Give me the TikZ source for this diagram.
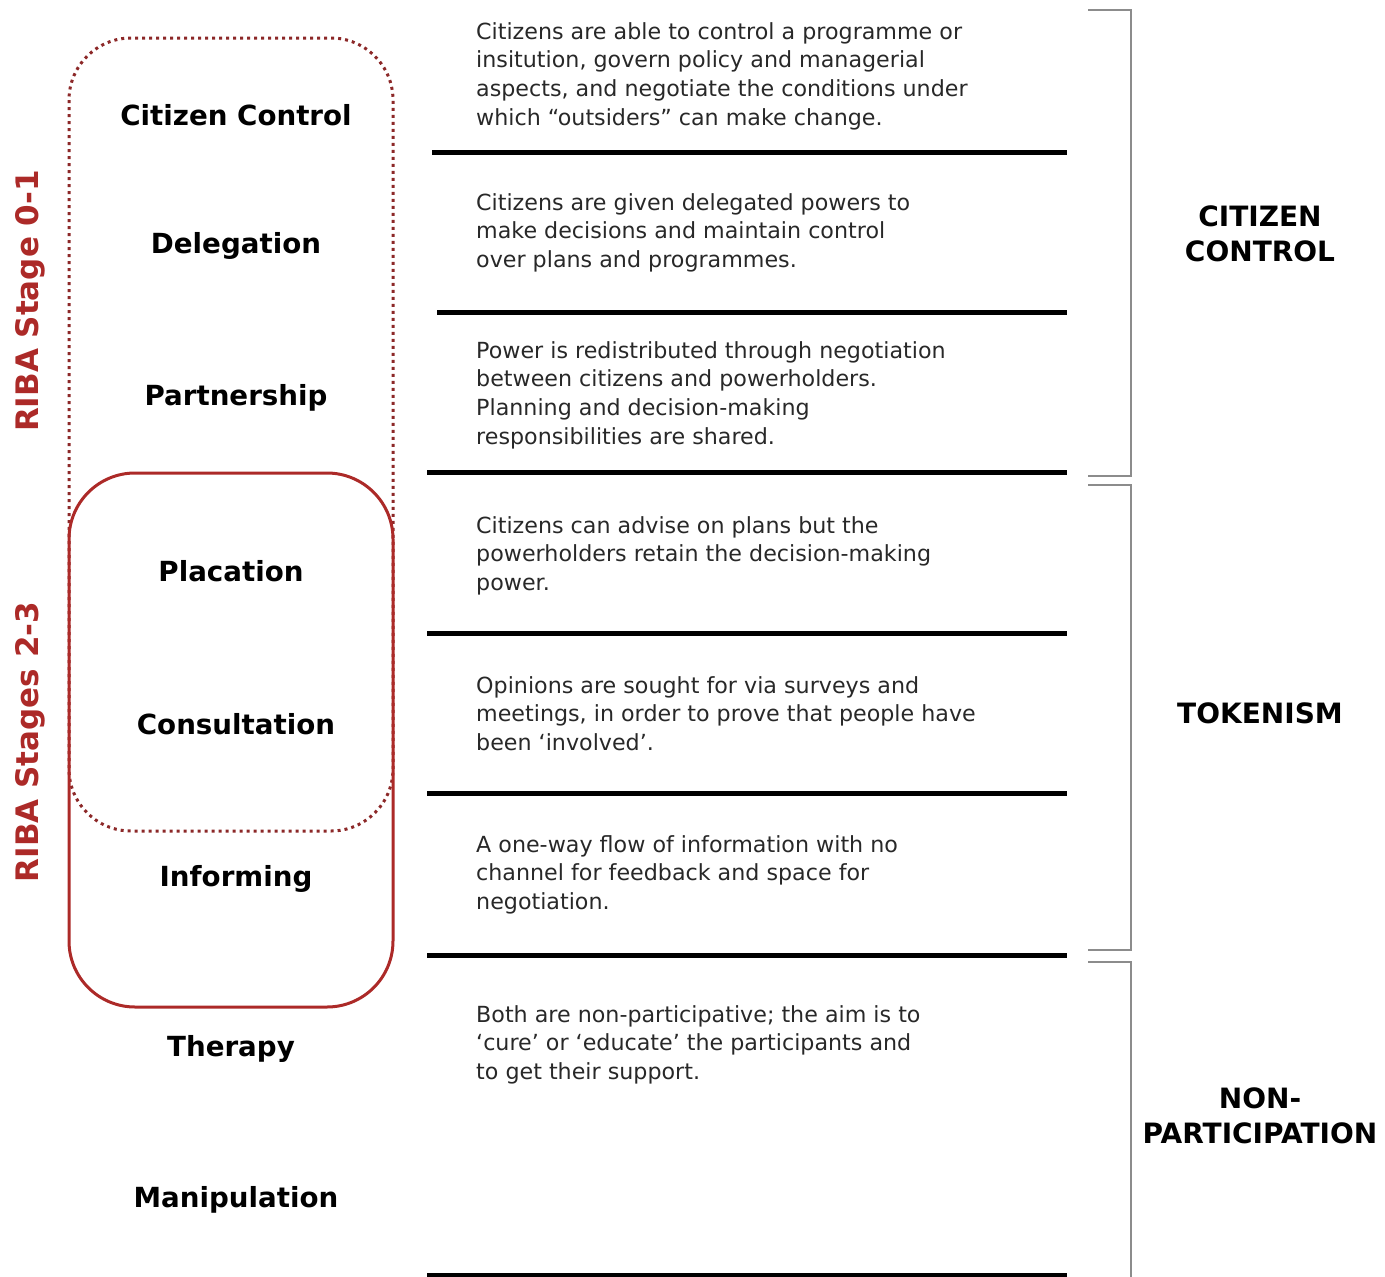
\documentclass[tikz,border=0pt]{standalone}
\usepackage{fontspec}
\setmainfont{DejaVu Sans}
\definecolor{ribared}{RGB}{172,42,40}
\definecolor{ribadot}{RGB}{140,40,40}
\definecolor{bracegray}{RGB}{140,140,140}
\definecolor{desctext}{RGB}{40,40,40}
\tikzset{
  rung/.style={inner sep=0,text height=20pt,text depth=0pt,font=\fontsize{27.7}{35}\selectfont\bfseries},
  desc/.style={anchor=north west,inner sep=0,align=left,text=desctext,font=\fontsize{22.2}{28.7}\selectfont},
  band/.style={inner sep=0,align=center,font=\fontsize{28}{34.5}\selectfont\bfseries},
  riba/.style={rotate=90,inner sep=0,text=ribared,font=\fontsize{31}{36}\selectfont\bfseries},
  sep/.style={line width=5pt},
  brace/.style={bracegray,line width=2.5pt}
}
\begin{document}
\begin{tikzpicture}[x=1pt,y=-1pt]
\useasboundingbox (0,0) rectangle (1385,1277);

% RIBA stage frames
\draw[ribadot,line width=3pt,dash pattern=on 3pt off 4pt,rounded corners=62pt](69,38) rectangle (393,831);
\draw[ribared,line width=3pt,rounded corners=66pt](69,473) rectangle (393,1007);
\node[riba] (stage01) at (30,301) {RIBA Stage 0-1};
\node[riba] (stage23) at (30,742) {RIBA Stages 2-3};

% rungs of the ladder
\node[rung] (ctrl) at (236,115) {Citizen Control};
\node[rung] (deleg) at (236,243) {Delegation};
\node[rung] (partn) at (236,395) {Partnership};
\node[rung] (plac) at (231,571) {Placation};
\node[rung] (consult) at (236,724) {Consultation};
\node[rung] (inform) at (236,876) {Informing};
\node[rung] (therapy) at (231,1046) {Therapy};
\node[rung] (manip) at (236,1197) {Manipulation};

% what each rung means
\node[desc] (d-ctrl) at (476,22) {Citizens are able to control a programme or\\insitution, govern policy and managerial\\aspects, and negotiate the conditions under\\which “outsiders” can make change.};
\node[desc] (d-deleg) at (476,193) {Citizens are given delegated powers to\\make decisions and maintain control\\over plans and programmes.};
\node[desc] (d-partn) at (476,341) {Power is redistributed through negotiation\\between citizens and powerholders.\\Planning and decision-making\\responsibilities are shared.};
\node[desc] (d-plac) at (476,516) {Citizens can advise on plans but the\\powerholders retain the decision-making\\power.};
\node[desc] (d-consult) at (476,676) {Opinions are sought for via surveys and\\meetings, in order to prove that people have\\been ‘involved’.};
\node[desc] (d-inform) at (476,835) {A one-way flow of information with no\\channel for feedback and space for\\negotiation.};
\node[desc] (d-nonpart) at (476,1005) {Both are non-participative; the aim is to\\‘cure’ or ‘educate’ the participants and\\to get their support.};

% separators
\foreach \x/\y in {432/152,437/312,427/472,427/633,427/793,427/955,427/1275}
  \draw[sep](\x,\y)--(1067,\y);

% brackets and groups
\draw[brace](1088,10)-|(1131,476)--(1088,476);
\draw[brace](1088,485)-|(1131,950)--(1088,950);
\draw[brace](1088,962)-|(1131,1277);
\node[band] (g-ctrl) at (1260,234) {CITIZEN\\CONTROL};
\node[band] (g-token) at (1260,713) {TOKENISM};
\node[band] (g-nonpart) at (1260,1116) {NON-\\PARTICIPATION};

\end{tikzpicture}
\end{document}
